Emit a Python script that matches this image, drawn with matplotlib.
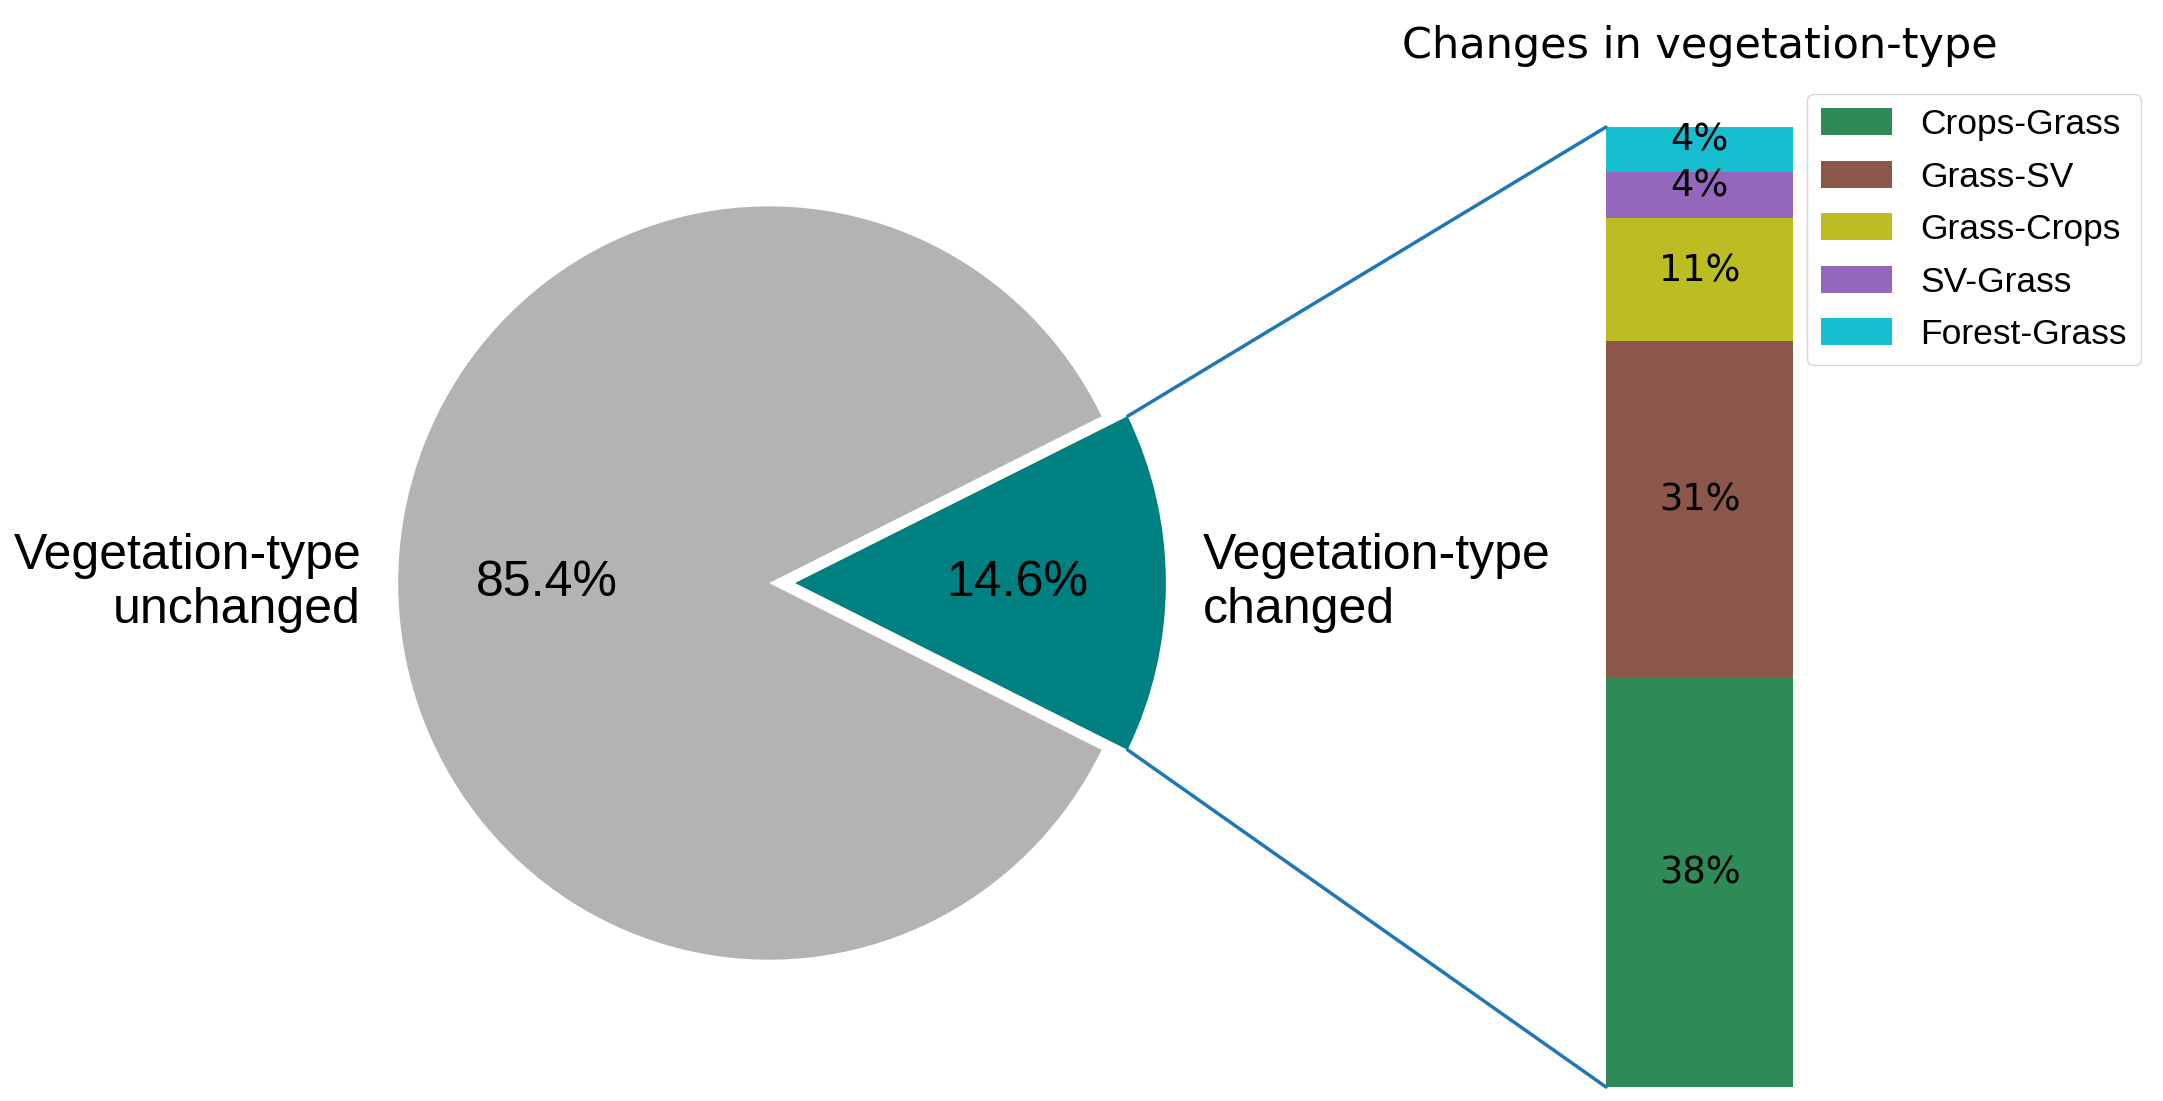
import numpy as np
import matplotlib.pyplot as plt
from matplotlib.patches import ConnectionPatch

# overall share of pixels (pie)
overall_labels = ['Vegetation-type\nchanged', 'Vegetation-type\nunchanged']
overall_ratios = [14.6, 85.4]
overall_colors = ['#008080', '#b3b3b3']

# breakdown of the changed share (stacked bar)
change_labels = ['Crops-Grass', 'Grass-SV', 'Grass-Crops', 'SV-Grass', 'Forest-Grass']
change_values = [37.7, 30.9, 11.3, 4.3, 4.1]
change_colors = ['#2e8b57', '#8c564b', '#bcbd22', '#9467bd', '#17becf']

fig = plt.figure(figsize=(21.63, 11.01), dpi=100)
ax1 = fig.add_axes([0.1498, 0.0599, 0.4115, 0.8211])
ax2 = fig.add_axes([0.7425, 0.0127, 0.0865, 0.8719])

# pie, changed wedge pulled out and centred on the right
explode = [0.07, 0]
angle = -180 * overall_ratios[0] / sum(overall_ratios)
wedges, texts, autotexts = ax1.pie(overall_ratios, labels=overall_labels, colors=overall_colors,
                                   explode=explode, startangle=angle, autopct='%1.1f%%',
                                   textprops={'fontsize': 36, 'family': 'Liberation Sans'})
ax1.set_aspect('auto')
ax1.set_xlim(-1.2, 1.2)
ax1.set_ylim(-1.2, 1.2)

# stacked bar
width = 1.0
bottom = 0
for val, lab, col in zip(change_values, change_labels, change_colors):
    bc = ax2.bar(0, val, width, bottom=bottom, color=col, label=lab)
    ax2.bar_label(bc, labels=[f'{val:.0f}%'], label_type='center', padding=6.5, fontsize=26.5)
    bottom += val

ax2.set_title('Changes in vegetation-type', fontsize=31, pad=50)
ax2.legend(loc='upper right', bbox_to_anchor=(2141 / 2163, 1 - 94 / 1101),
           bbox_transform=fig.transFigure, borderaxespad=0, labelspacing=0.55,
           handleheight=0.8, prop={'family': 'Liberation Sans', 'size': 25.5})
ax2.set_xlim(-width / 2, width / 2)
ax2.set_ylim(0, bottom)
ax2.axis('off')

# lines from the wedge corners to the bar
theta1, theta2 = wedges[0].theta1, wedges[0].theta2
center, r = wedges[0].center, wedges[0].r
for theta, ybar in [(theta2, bottom), (theta1, 0)]:
    x = r * np.cos(np.pi / 180 * theta) + center[0]
    y = r * np.sin(np.pi / 180 * theta) + center[1]
    con = ConnectionPatch(xyA=(-width / 2, ybar), coordsA=ax2.transData,
                          xyB=(x, y), coordsB=ax1.transData)
    con.set_color('#1f77b4')
    con.set_linewidth(2.5)
    ax2.add_artist(con)

fig.savefig('out.png', dpi=100)
